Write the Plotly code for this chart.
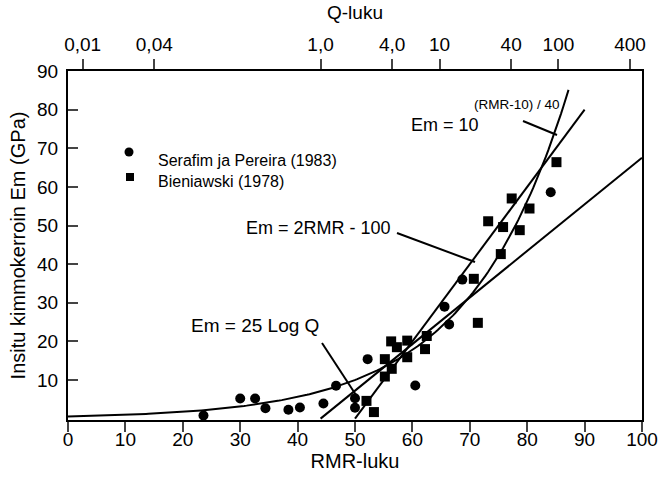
import numpy as np
import plotly.graph_objects as go

# ---------------- data ----------------
serafim_rmr = [23.6, 30.0, 32.6, 34.4, 38.4, 40.4, 44.5, 46.7, 50.0, 50.0, 52.2, 60.5, 65.6, 66.4, 68.7, 84.1]
serafim_em = [0.8, 5.2, 5.2, 2.7, 2.3, 2.9, 3.9, 8.5, 5.3, 2.8, 15.4, 8.6, 29.0, 24.4, 36.0, 58.6]

bien_rmr = [52.0, 53.3, 55.2, 55.2, 56.3, 56.4, 57.3, 59.1, 59.1, 62.2, 62.5, 70.7, 71.4, 73.2, 75.4, 75.8, 77.3, 78.7, 80.4, 85.1]
bien_em = [4.6, 1.7, 10.9, 15.4, 20.0, 12.9, 18.5, 20.2, 15.9, 18.0, 21.4, 36.2, 24.8, 51.1, 42.6, 49.6, 57.0, 48.8, 54.4, 66.4]

q_ticks = [0.01, 0.04, 1.0, 4.0, 10, 40, 100, 400]
q_labels = ["0,01", "0,04", "1,0", "4,0", "10", "40", "100", "400"]

x_ticks = list(range(0, 101, 10))
y_ticks = list(range(10, 91, 10))

legend_names = ["Serafim ja Pereira (1983)", "Bieniawski (1978)"]

# relation RMR = 9 ln Q + 44
rel_a, rel_b = 9.0, 44.0
# curve ranges
exp_range = [0, 87.2]
lin_range = [50, 90]
logq_range = [44, 100]

# ---------------- layout helpers ----------------
L, R, T, B = 68, 642, 71, 420
W, H = 667, 483


def px(xp):
    return (xp - L) / (R - L)


def py(yp):
    return (B - yp) / (B - T)


FONT = "Liberation Sans, Arial, Helvetica, sans-serif"

fig = go.Figure()

# lines
r1 = np.linspace(exp_range[0], exp_range[1], 200)
fig.add_trace(go.Scatter(x=r1, y=10 ** ((r1 - 10) / 40), mode="lines",
                         line=dict(color="black", width=2), showlegend=False, hoverinfo="skip"))
r2 = np.array(lin_range)
fig.add_trace(go.Scatter(x=r2, y=2 * r2 - 100, mode="lines",
                         line=dict(color="black", width=2), showlegend=False, hoverinfo="skip"))
r3 = np.array(logq_range)
fig.add_trace(go.Scatter(x=r3, y=25 * np.log10(np.exp((r3 - rel_b) / rel_a)), mode="lines",
                         line=dict(color="black", width=2), showlegend=False, hoverinfo="skip"))

# data markers
fig.add_trace(go.Scatter(x=serafim_rmr, y=serafim_em, mode="markers", name=legend_names[0],
                         marker=dict(symbol="circle", size=10, color="black"),
                         showlegend=False))
fig.add_trace(go.Scatter(x=bien_rmr, y=bien_em, mode="markers", name=legend_names[1],
                         marker=dict(symbol="square", size=10, color="black"),
                         showlegend=False))

# dummy trace for top axis
fig.add_trace(go.Scatter(x=[None], y=[None], xaxis="x2", showlegend=False))

q_pos = [rel_a * np.log(q) + rel_b for q in q_ticks]

fig.update_layout(
    width=W, height=H,
    margin=dict(l=L, r=W - R, t=T, b=H - B),
    paper_bgcolor="white", plot_bgcolor="white",
    font=dict(family=FONT, size=19, color="black"),
    showlegend=False,
    xaxis=dict(range=[0, 100], tickvals=x_ticks, ticks="outside", ticklen=10, tickwidth=2,
               showline=True, linewidth=2, linecolor="black", showgrid=False, zeroline=False,
               automargin=False, ticklabelstandoff=-9,
               title=dict(text="RMR-luku", standoff=4, font=dict(size=20)),
               tickfont=dict(size=19)),
    xaxis2=dict(range=[0, 100], overlaying="x", side="top", tickvals=q_pos, ticktext=q_labels,
                ticks="outside", ticklen=10, tickwidth=2, showline=True, linewidth=2,
                linecolor="black", showgrid=False, zeroline=False, automargin=False,
                title=dict(text="Q-luku", standoff=10, font=dict(size=19)),
                tickfont=dict(size=19)),
    yaxis=dict(range=[-0.35, 90], tickvals=y_ticks, ticks="inside", ticklen=10, tickwidth=2,
               showline=True, linewidth=2, linecolor="black", mirror=True, showgrid=False,
               zeroline=False, automargin=False, ticklabelstandoff=4,
               title=dict(text="Insitu kimmokerroin Em (GPa)", standoff=6, font=dict(size=20)),
               tickfont=dict(size=19)),
)

# annotations
ann = [
    dict(text="Em = 10", x=px(445), y=py(125), size=18),
    dict(text="(RMR-10) / 40", x=px(517), y=py(104), size=13.5),
    dict(text="Em = 2RMR - 100", x=px(318), y=py(228), size=18),
    dict(text="Em = 25 Log Q", x=px(255), y=py(325), size=19),
]
for a in ann:
    fig.add_annotation(text=a["text"], x=a["x"], y=a["y"], xref="paper", yref="paper",
                       showarrow=False, xanchor="center", yanchor="middle",
                       font=dict(size=a["size"], family=FONT, color="black"))

# manual legend
fig.add_shape(type="circle", xref="paper", yref="paper",
              x0=px(124.5), x1=px(133.5), y0=py(147.5), y1=py(156.5),
              fillcolor="black", line=dict(color="black", width=0))
fig.add_shape(type="rect", xref="paper", yref="paper",
              x0=px(126), x1=px(134), y0=py(173), y1=py(181),
              fillcolor="black", line=dict(color="black", width=0))
for name, ty in zip(legend_names, [160, 181]):
    fig.add_annotation(text=name, x=px(156), y=py(ty), xref="paper", yref="paper",
                       showarrow=False, xanchor="left", yanchor="middle",
                       font=dict(size=16, family=FONT, color="black"))

# leader lines (pixel endpoints)
leaders = [((523, 121), (557, 135)), ((397, 233), (475, 262)), ((322, 343), (356, 395))]
for (x0, y0), (x1, y1) in leaders:
    fig.add_shape(type="line", xref="paper", yref="paper", x0=px(x0), y0=py(y0), x1=px(x1), y1=py(y1),
                  line=dict(color="black", width=2))

fig.write_html("out.html")
